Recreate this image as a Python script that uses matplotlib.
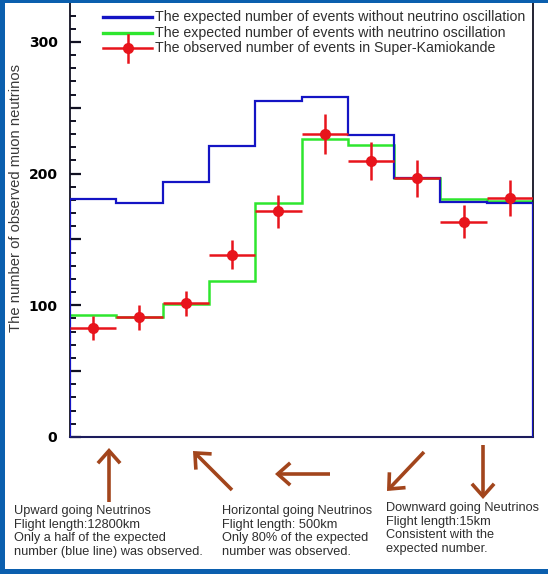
import matplotlib
matplotlib.use("Agg")
import matplotlib.pyplot as plt
import numpy as np
from matplotlib.lines import Line2D
from matplotlib.patches import Rectangle, FancyArrowPatch

# ---------------- data ----------------
bin_edges = np.arange(0, 11)  # 10 zenith-angle bins (upward -> downward)
expected_no_osc = [181, 177.5, 193.5, 221, 255, 258, 229, 196.5, 178.5, 178]
expected_osc = [93, 91, 101, 118.5, 178, 226, 222, 196.5, 181, 179.5]
observed = [83, 91, 101.5, 138.5, 171.5, 230, 209.5, 196.5, 163.5, 181.5]
observed_err = [9, 9.5, 9.5, 11, 12.5, 15, 14.5, 14, 12.5, 13.5]

legend_labels = [
    "The expected number of events without neutrino oscillation",
    "The expected number of events with neutrino oscillation",
    "The observed number of events in Super-Kamiokande",
]
ylabel = "The number of observed muon neutrinos"
yticks_major = [0, 50, 100, 150, 200, 250, 300]
ytick_labels = ["0", "", "100", "", "200", "", "300"]

notes = [
    "Upward going Neutrinos\nFlight length:12800km\nOnly a half of the expected\nnumber (blue line) was observed.",
    "Horizontal going Neutrinos\nFlight length: 500km\nOnly 80% of the expected\nnumber was observed.",
    "Downward going Neutrinos\nFlight length:15km\nConsistent with the\nexpected number.",
]

# ---------------- styling ----------------
W, H = 548, 574
BLUE = "#1414c4"
GREEN = "#2ee62e"
RED = "#e8141c"
BROWN = "#a2451c"
FRAME = "#0b5fae"
TXT = "#2e2e2e"


def fx(x):
    return x / W


def fy(y):
    return 1 - y / H


fig = plt.figure(figsize=(W / 100, H / 100), dpi=100)
fig.patch.set_facecolor("white")

ax_left, ax_right, ax_bottom = 70, 533, 437
ax = fig.add_axes([fx(ax_left), fy(ax_bottom), (ax_right - ax_left) / W, ax_bottom / H])
px_per_unit = 1.3167
ax.set_xlim(0, 10)
ax.set_ylim(0, ax_bottom / px_per_unit)

# histograms
ax.stairs(expected_no_osc, bin_edges, baseline=0, color=BLUE, lw=1.6, zorder=3)
ax.stairs(expected_osc, bin_edges, baseline=None, color=GREEN, lw=1.8, zorder=2)
centers = (bin_edges[:-1] + bin_edges[1:]) / 2
ax.errorbar(centers, observed, xerr=0.5, yerr=observed_err, fmt="o", color=RED,
            ms=7, elinewidth=1.8, capsize=0, zorder=4)

# axes style
ax.spines["top"].set_visible(False)
for s in ["left", "right"]:
    ax.spines[s].set_color("#111122")
    ax.spines[s].set_linewidth(1.3)
ax.spines["bottom"].set_color("#1c1c5c")
ax.spines["bottom"].set_linewidth(1.5)
ax.set_xticks([])
ax.set_yticks(yticks_major)
ax.set_yticklabels(ytick_labels, fontsize=10, fontweight="bold", family="DejaVu Sans")
ax.set_yticks(np.arange(0, 331, 10), minor=True)
ax.tick_params(axis="y", which="major", direction="in", length=8, width=1.6, pad=9, color="#111122")
ax.tick_params(axis="y", which="minor", direction="in", length=4.5, width=1.4, color="#111122")

# y label
fig.text(fx(16), fy(198), ylabel, rotation=90, va="center", ha="center",
         fontsize=10.6, family="Liberation Sans", color="#3a3a3a")

# legend (manual)
leg_y = [17.3, 32.8, 48.3]
lx0, lx1, ltx = 103, 152, 155
fig.add_artist(Line2D([fx(lx0), fx(lx1)], [fy(leg_y[0])] * 2, color=BLUE, lw=2.4))
fig.add_artist(Line2D([fx(lx0), fx(lx1)], [fy(leg_y[1])] * 2, color=GREEN, lw=2.4))
fig.add_artist(Line2D([fx(lx0), fx(lx1)], [fy(leg_y[2])] * 2, color=RED, lw=1.8))
fig.add_artist(Line2D([fx((lx0 + lx1) / 2)] * 2, [fy(leg_y[2] - 13.5), fy(leg_y[2] + 13.5)], color=RED, lw=1.8))
fig.add_artist(Line2D([fx((lx0 + lx1) / 2)], [fy(leg_y[2])], marker="o", ms=7, color=RED, lw=0))
for yy, lab in zip(leg_y, legend_labels):
    fig.text(fx(ltx), fy(yy), lab, va="center", ha="left", fontsize=10.2,
             family="Liberation Sans", color=TXT)

# arrows
arrows = [((109, 502), (109, 448)), ((232, 490), (193, 451)), ((330, 474), (275, 474)),
          ((424, 452), (387, 491)), ((483, 445), (483, 499))]
for a, b in arrows:
    fig.add_artist(FancyArrowPatch((fx(a[0]), fy(a[1])), (fx(b[0]), fy(b[1])),
                                   transform=fig.transFigure,
                                   arrowstyle="->,head_length=9,head_width=8",
                                   mutation_scale=1, lw=2.6, color=BROWN,
                                   shrinkA=0, shrinkB=0, joinstyle="miter", capstyle="butt"))

# notes
note_pos = [(14, 505), (222, 505), (386, 502)]
for (x, y), t in zip(note_pos, notes):
    fig.text(fx(x), fy(y), t, va="top", ha="left", fontsize=9.2, linespacing=1.18,
             family="Liberation Sans", color=TXT)

# blue frame
fig.add_artist(Rectangle((0, 0), fx(4.5), 1, transform=fig.transFigure, color=FRAME, lw=0))
fig.add_artist(Rectangle((0, 0), 1, 5 / H, transform=fig.transFigure, color=FRAME, lw=0))
fig.add_artist(Rectangle((0, 1 - 2.5 / H), 1, 2.5 / H, transform=fig.transFigure, color=FRAME, lw=0))

fig.savefig("out.png", dpi=100)
